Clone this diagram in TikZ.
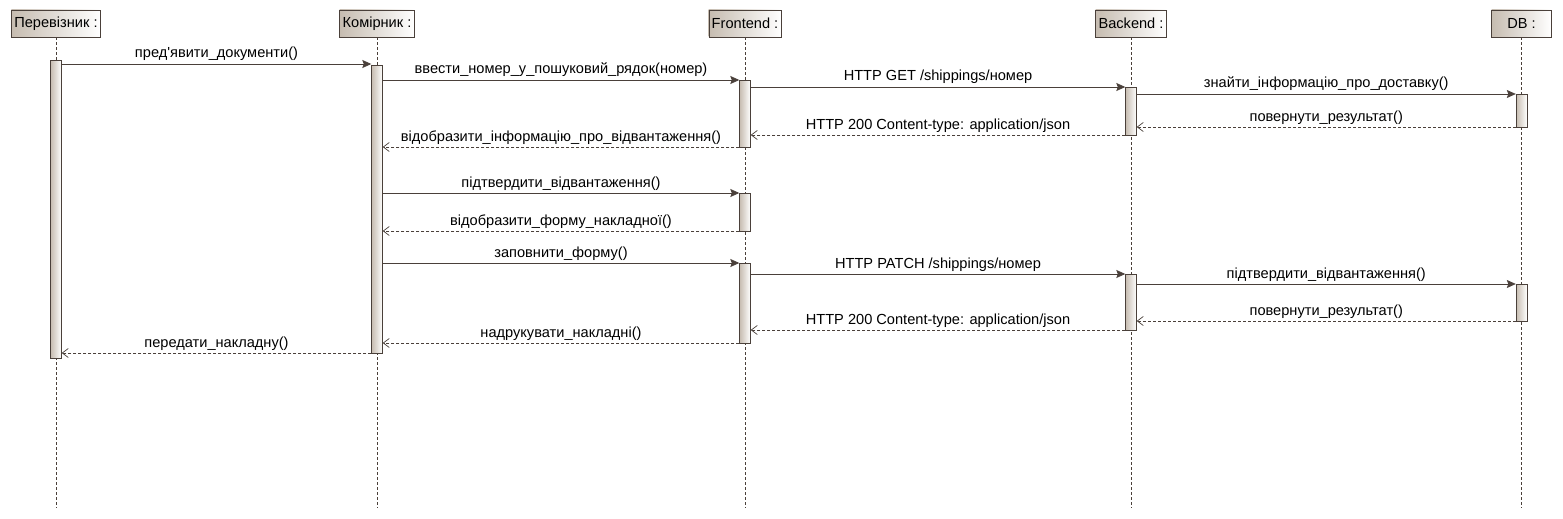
\documentclass[tikz,border=0pt]{standalone}
\usepackage{fontspec}
\setmainfont{Liberation Sans}
\usetikzlibrary{arrows.meta,positioning}
\definecolor{umlline}{RGB}{74,64,58}
\definecolor{umlshade}{RGB}{198,188,176}

\begin{document}
\begin{tikzpicture}[x=1pt,y=-1pt,font=\fontsize{14.6}{16}\selectfont,
		obj/.style={draw=umlline,left color=umlshade,right color=white,minimum width=60pt,minimum height=27pt,inner xsep=3pt,inner ysep=0pt},
		act/.style={draw=umlline,left color=umlshade,right color=white,minimum width=11pt,inner sep=0pt,anchor=north},
		life/.style={draw=umlline,dash pattern=on 3pt off 2pt,line width=0.6pt},
		call/.style={draw=umlline,line width=0.8pt,-{Stealth[length=9pt,width=8pt,inset=1.5pt]}},
		reply/.style={draw=umlline,line width=0.7pt,dash pattern=on 3pt off 2pt,-{Straight Barb[length=6pt,width=9pt,line width=0.7pt]}},
		lbl/.style={midway,anchor=base,yshift=6pt,inner sep=0pt}]
				\useasboundingbox (0,0) rectangle (1563,519);
				% objects
				\node[obj] (perev) at (56,23.5) {Перевізник :};
				\node[obj] (komir) at (377,23.5) {Комірник :};
				\node[obj] (front) at (745,23.5) {Frontend :};
				\node[obj] (back) at (1131,23.5) {Backend :};
				\node[obj] (db) at (1521.5,23.5) {DB :};
				% lifelines
				\draw[life] (perev) -- (perev |- 0,508);
				\draw[life] (komir) -- (komir |- 0,508);
				\draw[life] (front) -- (front |- 0,508);
				\draw[life] (back) -- (back |- 0,508);
				\draw[life] (db) -- (db |- 0,508);
				% activations
				\node[act,minimum height=298pt] (pb) at (perev.south |- 0,60) {};
				\node[act,minimum height=288pt] (kb) at (komir.south |- 0,65) {};
				\node[act,minimum height=67pt] (fb1) at (front.south |- 0,80) {};
				\node[act,minimum height=48pt] (bb1) at (back.south |- 0,87) {};
				\node[act,minimum height=33pt] (dbb1) at (db.south |- 0,94) {};
				\node[act,minimum height=38pt] (fb2) at (front.south |- 0,193) {};
				\node[act,minimum height=80pt] (fb3) at (front.south |- 0,263) {};
				\node[act,minimum height=56pt] (bb2) at (back.south |- 0,274) {};
				\node[act,minimum height=37pt] (dbb2) at (db.south |- 0,284) {};
				% messages
				\draw[call] (pb.east |- 0,64) -- node[lbl] {пред\textquotesingle явити\_документи()} (kb.west |- 0,64);
				\draw[call] (kb.east |- 0,80) -- node[lbl] {ввести\_номер\_у\_пошуковий\_рядок(номер)} (fb1.west |- 0,80);
				\draw[call] (fb1.east |- 0,87) -- node[lbl] {HTTP GET /shippings/номер} (bb1.west |- 0,87);
				\draw[call] (bb1.east |- 0,94) -- node[lbl] {знайти\_інформацію\_про\_доставку()} (dbb1.west |- 0,94);
				\draw[reply] (dbb1.west |- 0,127) -- node[lbl] {повернути\_результат()} (bb1.east |- 0,127);
				\draw[reply] (bb1.west |- 0,135) -- node[lbl] {HTTP 200 Content-type: application/json} (fb1.east |- 0,135);
				\draw[reply] (fb1.west |- 0,147) -- node[lbl] {відобразити\_інформацію\_про\_відвантаження()} (kb.east |- 0,147);
				\draw[call] (kb.east |- 0,193) -- node[lbl] {підтвердити\_відвантаження()} (fb2.west |- 0,193);
				\draw[reply] (fb2.west |- 0,231) -- node[lbl] {відобразити\_форму\_накладної()} (kb.east |- 0,231);
				\draw[call] (kb.east |- 0,263) -- node[lbl] {заповнити\_форму()} (fb3.west |- 0,263);
				\draw[call] (fb3.east |- 0,274) -- node[lbl] {HTTP PATCH /shippings/номер} (bb2.west |- 0,274);
				\draw[call] (bb2.east |- 0,284) -- node[lbl] {підтвердити\_відвантаження()} (dbb2.west |- 0,284);
				\draw[reply] (dbb2.west |- 0,321) -- node[lbl] {повернути\_результат()} (bb2.east |- 0,321);
				\draw[reply] (bb2.west |- 0,330) -- node[lbl] {HTTP 200 Content-type: application/json} (fb3.east |- 0,330);
				\draw[reply] (fb3.west |- 0,343) -- node[lbl] {надрукувати\_накладні()} (kb.east |- 0,343);
				\draw[reply] (kb.west |- 0,353) -- node[lbl] {передати\_накладну()} (pb.east |- 0,353);
			\end{tikzpicture}
\end{document}
